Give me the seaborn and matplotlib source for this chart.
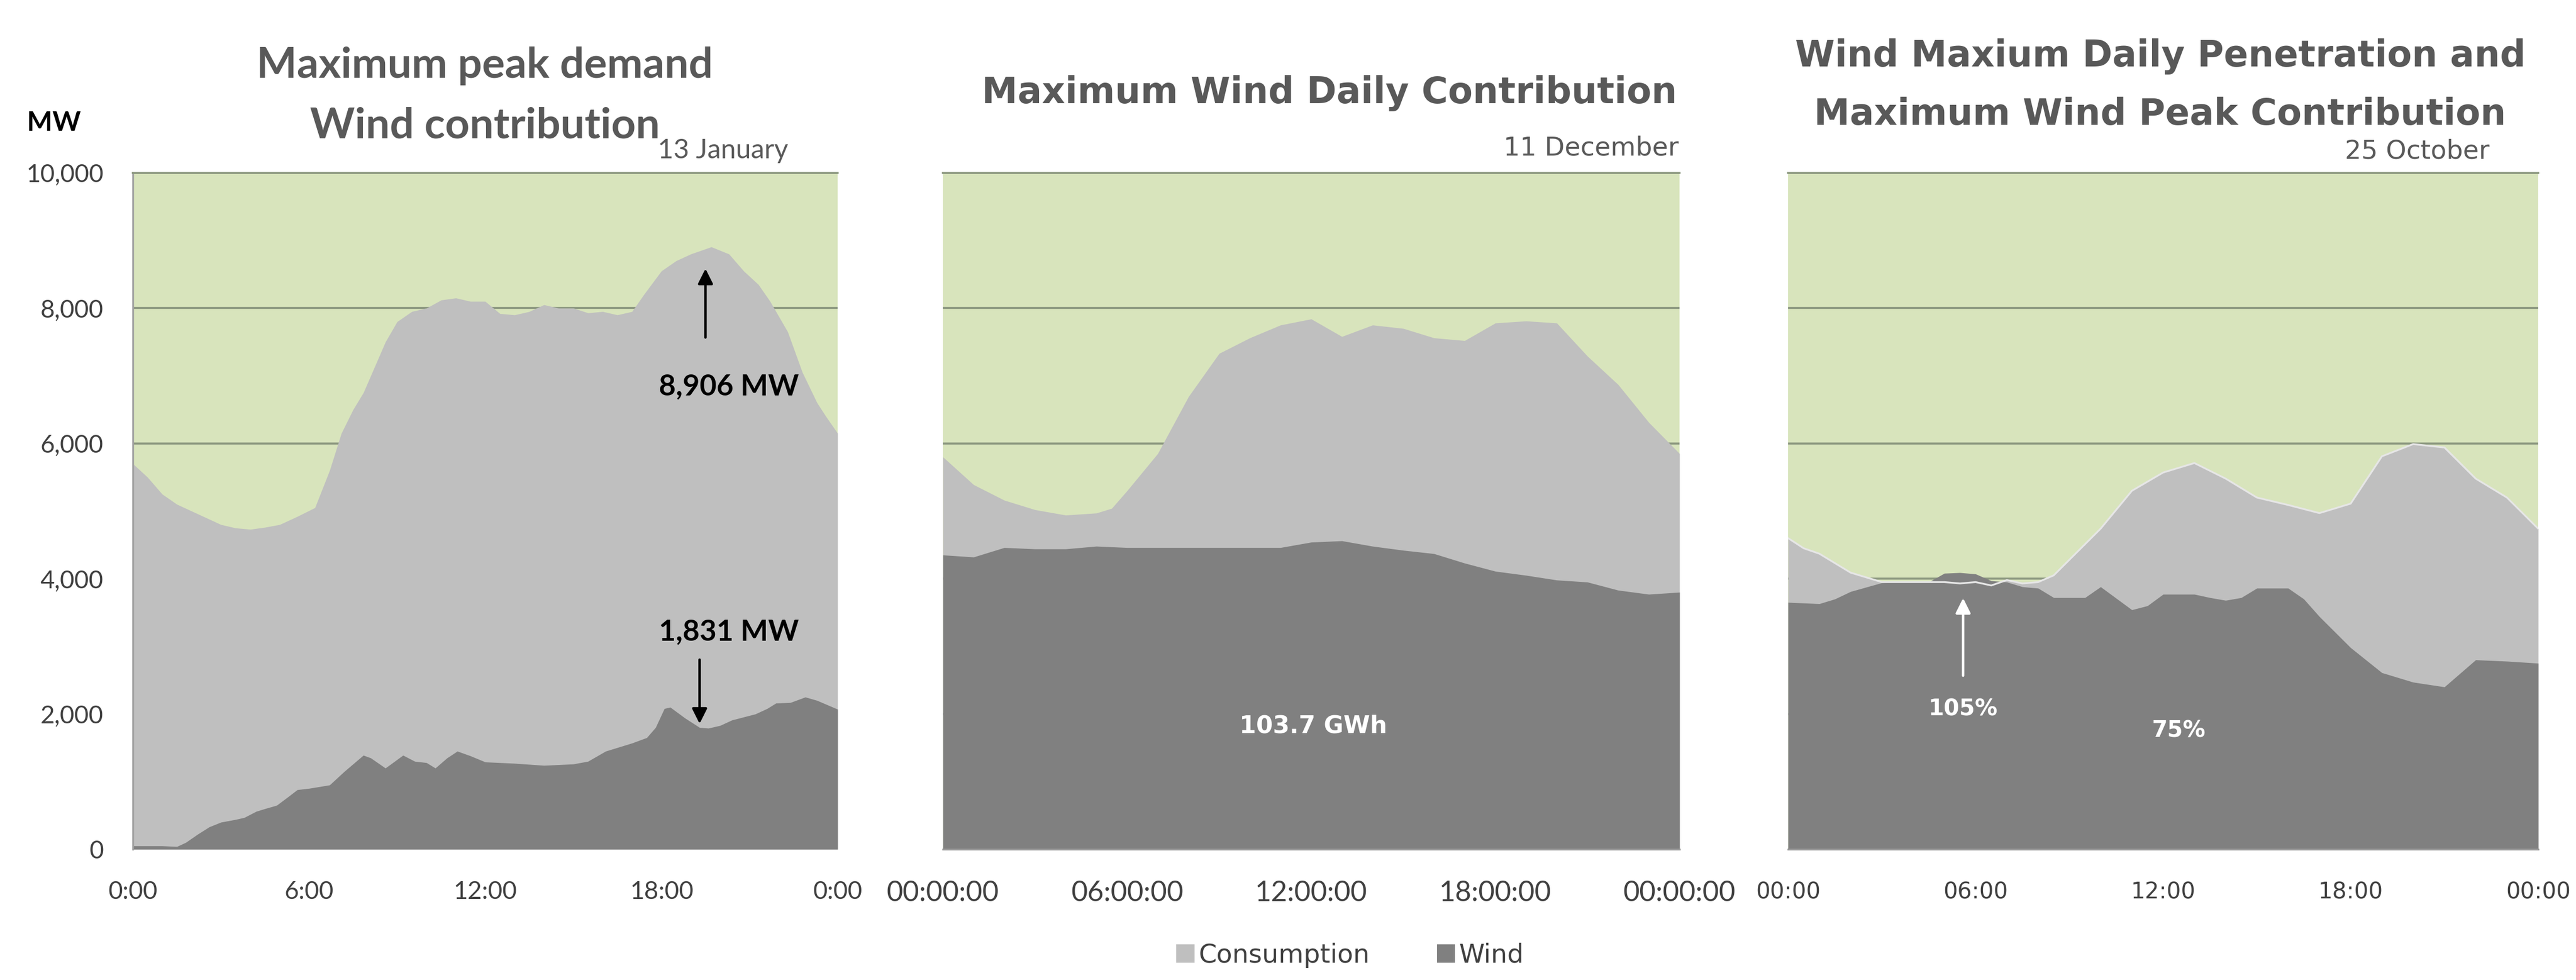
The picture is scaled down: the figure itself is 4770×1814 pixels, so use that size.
import numpy as np
import pandas as pd
import seaborn as sns
import matplotlib.pyplot as plt
from matplotlib.patches import Patch

# ---- data (hours of day, MW) ----
cons1_h = [0, 0.5, 1, 1.5, 2, 2.5, 3, 3.5, 4, 4.5, 5, 5.6, 6.2, 6.7, 7.1, 7.5, 7.85, 8.2, 8.6, 9,
           9.5, 10, 10.5, 11, 11.5, 12, 12.5, 13, 13.5, 14, 14.5, 15, 15.5, 16, 16.5, 17, 17.4, 18,
           18.5, 19, 19.7, 20.3, 20.8, 21.3, 21.7, 22.3, 22.8, 23.3, 23.6, 24]
cons1 = [5700, 5500, 5250, 5100, 5000, 4900, 4800, 4750, 4730, 4760, 4800, 4920, 5050, 5600, 6150,
         6500, 6750, 7100, 7500, 7800, 7950, 8000, 8120, 8150, 8100, 8100, 7920, 7900, 7950, 8050,
         8000, 8000, 7930, 7950, 7900, 7950, 8200, 8550, 8700, 8800, 8906, 8800, 8550, 8350, 8100,
         7650, 7050, 6600, 6400, 6150]
wind1_h = [0, 1, 1.5, 1.8, 2.2, 2.6, 3, 3.5, 3.8, 4.2, 4.5, 4.9, 5.3, 5.6, 6, 6.7, 7.2, 7.85, 8.1,
           8.6, 9.2, 9.6, 10, 10.3, 10.7, 11.05, 11.5, 12, 13, 14, 15, 15.5, 16.1, 17, 17.5, 17.8,
           18.1, 18.3, 18.8, 19.3, 19.6, 20, 20.4, 21.2, 21.6, 21.9, 22.4, 22.9, 23.3, 24]
wind1 = [50, 50, 40, 100, 220, 330, 400, 440, 470, 560, 600, 650, 780, 880, 900, 950, 1150, 1390,
         1350, 1200, 1390, 1300, 1280, 1200, 1350, 1450, 1380, 1290, 1270, 1240, 1260, 1300, 1450,
         1570, 1650, 1800, 2080, 2100, 1940, 1800, 1790, 1830, 1910, 2000, 2080, 2160, 2170, 2250,
         2200, 2070]

cons2_h = [0, 1, 2, 3, 4, 5, 5.5, 6, 7, 8, 9, 10, 11, 12, 13, 14, 15, 16, 17, 18, 19, 20, 21, 22, 23, 24]
cons2 = [5800, 5390, 5160, 5020, 4940, 4970, 5040, 5300, 5850, 6690, 7330, 7560, 7750, 7840, 7580,
         7750, 7700, 7560, 7520, 7780, 7810, 7780, 7290, 6870, 6310, 5850]
wind2_h = [0, 1, 2, 3, 4, 5, 6, 7, 8, 9, 10, 11, 12, 13, 14, 15, 16, 17, 18, 19, 20, 21, 22, 23, 24]
wind2 = [4350, 4320, 4460, 4440, 4440, 4480, 4460, 4460, 4460, 4460, 4460, 4460, 4540, 4560, 4480,
         4420, 4370, 4230, 4110, 4050, 3980, 3950, 3830, 3770, 3800]

cons3_h = [0, 0.5, 1, 2, 3, 4, 5, 5.5, 6, 6.5, 7, 7.5, 8, 8.5, 9, 10, 11, 12, 13, 14, 15, 16, 17,
           18, 19, 20, 21, 22, 23, 24]
cons3 = [4600, 4450, 4370, 4090, 3950, 3950, 3950, 3930, 3950, 3900, 3980, 3930, 3950, 4050, 4280,
         4740, 5300, 5570, 5710, 5480, 5200, 5090, 4970, 5110, 5810, 5990, 5940, 5480, 5200, 4740]
wind3_h = [0, 1, 1.5, 2, 3, 4, 4.5, 5, 5.5, 6, 6.5, 7, 7.5, 8, 8.5, 9, 9.5, 10, 11, 11.5, 12, 13,
           13.5, 14, 14.5, 15, 16, 16.5, 17, 18, 19, 20, 21, 21.5, 22, 23, 24]
wind3 = [3650, 3630, 3700, 3810, 3940, 3950, 3950, 4080, 4090, 4070, 3970, 3950, 3880, 3860, 3720,
         3720, 3720, 3880, 3540, 3600, 3770, 3770, 3720, 3680, 3720, 3860, 3860, 3700, 3440, 2980,
         2610, 2470, 2400, 2600, 2800, 2780, 2750]

titles = [["Maximum peak demand", "Wind contribution"],
          ["Maximum Wind Daily Contribution"],
          ["Wind Maxium Daily Penetration and", "Maximum Wind Peak Contribution"]]
dates = ["13 January", "11 December", "25 October"]
xticklabels = [["0:00", "6:00", "12:00", "18:00", "0:00"],
               ["00:00:00", "06:00:00", "12:00:00", "18:00:00", "00:00:00"],
               ["00:00", "06:00", "12:00", "18:00", "00:00"]]
yticks = [0, 2000, 4000, 6000, 8000, 10000]

GREEN = "#d8e4bc"
CONS = "#bfbfbf"
WIND = "#808080"
GRID = "#8c9880"
TXT = "#595959"

sns.set_theme(style="white")
plt.rcParams['font.family'] = ['DejaVu Sans']

fig = plt.figure(figsize=(15.9, 4770 / 300 * 1814 / 4770), dpi=300)
W, H = 4770, 1814
boxes = [(246, 1551), (1746, 3110), (3311, 4700)]
top_px, bot_px = 320, 1572

panels = [(cons1_h, cons1, wind1_h, wind1), (cons2_h, cons2, wind2_h, wind2),
          (cons3_h, cons3, wind3_h, wind3)]
axes = []
for i, ((x0, x1), (ch, cv, wh, wv)) in enumerate(zip(boxes, panels)):
    ax = fig.add_axes([x0 / W, 1 - bot_px / H, (x1 - x0) / W, (bot_px - top_px) / H])
    axes.append(ax)
    ax.set_facecolor(GREEN)
    ax.set_axisbelow(True)
    df_c = pd.DataFrame({"h": ch, "mw": cv})
    df_w = pd.DataFrame({"h": wh, "mw": wv})
    ax.fill_between(df_c["h"], df_c["mw"], color=CONS, lw=0, zorder=1)
    ax.fill_between(df_w["h"], df_w["mw"], color=WIND, lw=0, zorder=2)
    if i == 2:
        sns.lineplot(data=df_c, x="h", y="mw", ax=ax, color="#e6e6e6", lw=0.8, zorder=3)
    ax.set_xlim(0, 24)
    ax.set_ylim(0, 10000)
    ax.set_yticks(yticks)
    ax.set_xticks([0, 6, 12, 18, 24])
    ax.yaxis.grid(True, color=GRID, lw=0.9)
    ax.xaxis.grid(False)
    ax.set_xlabel("")
    ax.set_ylabel("")
    for s in ["left", "right", "bottom"]:
        ax.spines[s].set_visible(False)
    ax.spines["top"].set_color(GRID)
    ax.spines["top"].set_linewidth(0.9)

    if i == 0:
        ax.spines["left"].set_visible(True)
        ax.spines["left"].set_color("#a0a0a0")
        ax.spines["left"].set_linewidth(0.8)
        ax.set_yticklabels([f"{v:,}" for v in yticks], family="Lato", fontsize=11, color="#404040")
        ax.set_xticklabels(xticklabels[i], family="Lato", fontsize=11, color="#404040")
        ax.tick_params(axis="both", length=0)
        ax.tick_params(axis="y", pad=13)
        ax.tick_params(axis="x", pad=14)
    else:
        ax.set_yticklabels([])
        ax.spines["bottom"].set_visible(True)
        ax.spines["bottom"].set_color("#999999")
        ax.spines["bottom"].set_linewidth(0.8)
        fam = "Lato" if i == 1 else "DejaVu Sans"
        fs = 12.5 if i == 1 else 10
        ax.set_xticklabels(xticklabels[i], family=fam, fontsize=fs, color="#404040")
        ax.tick_params(axis="x", length=5, width=0.8, color="#999999", direction="out", pad=9)
        ax.tick_params(axis="y", length=0)

# titles
fig.text(898 / W, 1 - 122 / H, titles[0][0], ha="center", va="center", family="Lato",
         fontweight="bold", fontsize=19, color=TXT)
fig.text(898 / W, 1 - 234 / H, titles[0][1], ha="center", va="center", family="Lato",
         fontweight="bold", fontsize=19, color=TXT)
fig.text(2462 / W, 1 - 173 / H, titles[1][0], ha="center", va="center",
         fontweight="bold", fontsize=16, color=TXT)
fig.text(4000 / W, 1 - 104 / H, titles[2][0], ha="center", va="center",
         fontweight="bold", fontsize=16, color=TXT)
fig.text(4000 / W, 1 - 212 / H, titles[2][1], ha="center", va="center",
         fontweight="bold", fontsize=16, color=TXT)

# dates
fig.text(1459 / W, 1 - 279 / H, dates[0], ha="right", va="center", family="Lato",
         fontsize=12, color=TXT)
fig.text(3108 / W, 1 - 274 / H, dates[1], ha="right", va="center", fontsize=11.5, color=TXT)
fig.text(4610 / W, 1 - 280 / H, dates[2], ha="right", va="center", fontsize=11.5, color=TXT)

fig.text(100 / W, 1 - 228 / H, "MW", ha="center", va="center", family="Lato",
         fontweight="bold", fontsize=12, color="black")

# annotations
a1, a2, a3 = axes
a1.annotate("", xy=(19.5, 8650), xytext=(19.5, 7500),
            arrowprops=dict(arrowstyle="-|>", color="black", lw=1.1, mutation_scale=14))
a1.text(20.3, 6840, "8,906 MW", ha="center", va="center", family="Lato",
        fontweight="bold", fontsize=13, color="black")
a1.annotate("", xy=(19.3, 1790), xytext=(19.3, 2870),
            arrowprops=dict(arrowstyle="-|>", color="black", lw=1.1, mutation_scale=14))
a1.text(20.3, 3210, "1,831 MW", ha="center", va="center", family="Lato",
        fontweight="bold", fontsize=13, color="black")

a2.text(12.06, 1820, "103.7 GWh", ha="center", va="center", fontweight="bold",
        fontsize=10.7, color="white")

a3.annotate("", xy=(5.6, 3780), xytext=(5.6, 2500),
            arrowprops=dict(arrowstyle="-|>", color="white", lw=1.1, mutation_scale=14))
a3.text(5.6, 2070, "105%", ha="center", va="center", fontweight="bold", fontsize=10,
        color="white")
a3.text(12.5, 1750, "75%", ha="center", va="center", fontweight="bold", fontsize=10,
        color="white")

# legend
handles = [Patch(facecolor=CONS, edgecolor="none", label="Consumption"),
           Patch(facecolor=WIND, edgecolor="none", label="Wind")]
fig.legend(handles=handles, loc="center", bbox_to_anchor=(2500 / W, 1 - 1768 / H), ncol=2,
           frameon=False, handlelength=0.7, handleheight=0.7, handletextpad=0.15,
           columnspacing=2.6, prop={"size": 11.5}, labelcolor="#404040")

fig.savefig("out.png", dpi=300, facecolor="white")
